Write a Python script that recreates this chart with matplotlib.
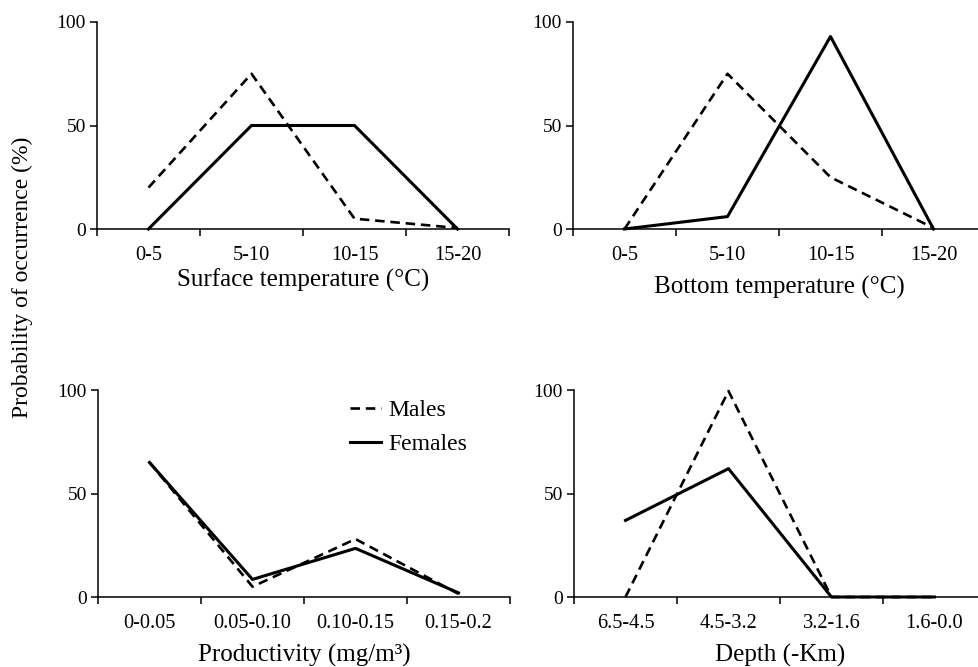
import matplotlib
matplotlib.use("Agg")
import matplotlib.pyplot as plt
import numpy as np

plt.rcParams['font.family'] = ['Liberation Serif', 'DejaVu Serif']

surface_cats = ["0-5", "5-10", "10-15", "15-20"]
surface_males = [20, 75, 5, 0.5]
surface_females = [0, 50, 50, 0]

bottom_cats = ["0-5", "5-10", "10-15", "15-20"]
bottom_males = [0, 75, 25, 0.5]
bottom_females = [0, 6, 93, 0]

prod_cats = ["0-0.05", "0.05-0.10", "0.10-0.15", "0.15-0.2"]
prod_males = [65, 5, 28, 1.5]
prod_females = [65, 8.5, 23.5, 2]

depth_cats = ["6.5-4.5", "4.5-3.2", "3.2-1.6", "1.6-0.0"]
depth_males = [0, 99.5, 0, 0]
depth_females = [37, 62, 0, 0]

W, H = 979, 667
fig = plt.figure(figsize=(W / 100, H / 100), dpi=100)

def rect(left, bottom_px, width=412, height=207):
    return [left / W, 1 - bottom_px / H, width / W, height / H]

panels = [
    (rect(97, 229), surface_cats, surface_males, surface_females, "Surface temperature (°C)", 3),
    (rect(573, 229), bottom_cats, bottom_males, bottom_females, "Bottom temperature (°C)", 8),
    (rect(98, 597), prod_cats, prod_males, prod_females, "Productivity (mg/m³)", 8),
    (rect(574, 597), depth_cats, depth_males, depth_females, "Depth (-Km)", 8),
]

axes = []
for r, cats, males, females, xlabel, lp in panels:
    ax = fig.add_axes(r)
    x = np.arange(len(cats)) + 0.5
    lm, = ax.plot(x, males, color='black', lw=1.9, ls=(0, (3.6, 2.2)), label='Males')
    lf, = ax.plot(x, females, color='black', lw=2.2, ls='-', label='Females')
    ax.set_xlim(0, len(cats))
    ax.set_ylim(0, 100)
    ax.set_yticks([0, 50, 100])
    ax.set_yticklabels(["0", "50", "100"])
    ax.set_xticks(np.arange(len(cats) + 1))
    ax.set_xticklabels([])
    ax.set_xticks(x, minor=True)
    ax.set_xticklabels(cats, minor=True)
    ax.tick_params(axis='x', which='major', direction='out', length=5, width=1.1)
    ax.tick_params(axis='x', which='minor', length=0, pad=12, labelsize=14.7)
    ax.tick_params(axis='y', direction='out', length=5, width=1.1, pad=3, labelsize=14)
    for s in ['top', 'right']:
        ax.spines[s].set_visible(False)
    for s in ['left', 'bottom']:
        ax.spines[s].set_linewidth(1.1)
    ax.set_xlabel(xlabel, fontsize=18, labelpad=lp)
    ax.patch.set_alpha(0)
    for line in ax.lines:
        line.set_clip_on(False)
    axes.append((ax, lm, lf))

ax, lm, lf = axes[2]
ax.legend(handles=[lm, lf], loc='upper left', bbox_to_anchor=(0.612, 0.952),
          frameon=False, fontsize=17, handlelength=1.3, handletextpad=0.3,
          labelspacing=0.52, borderpad=0, borderaxespad=0)

fig.text(22 / W, 1 - 277 / H, "Probability of occurrence (%)", rotation=90,
         ha='center', va='center', fontsize=17)

fig.savefig("out.png", dpi=100)
